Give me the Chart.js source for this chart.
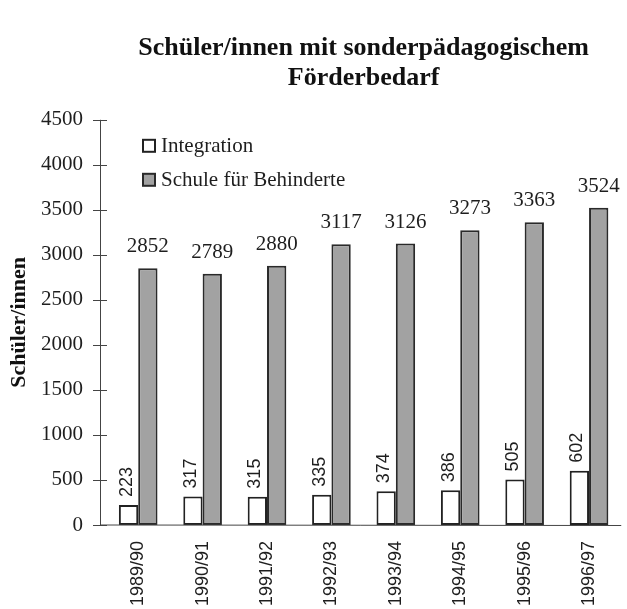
<!DOCTYPE html>
<html><head><meta charset="utf-8">
<script src="https://cdn.jsdelivr.net/npm/chart.js@4/dist/chart.umd.min.js"></script>
<style>html,body{margin:0;padding:0;background:#fff}#wrap{width:627px;height:609px}</style>
</head><body><div id="wrap"><canvas id="c" width="627" height="609"></canvas></div>
<script>
const categories = ['1989/90','1990/91','1991/92','1992/93','1993/94','1994/95','1995/96','1996/97'];
const integration = [223, 317, 315, 335, 374, 386, 505, 602];
const schule = [2852, 2789, 2880, 3117, 3126, 3273, 3363, 3524];
const seriesNames = ['Integration', 'Schule für Behinderte'];
const titleLines = ['Schüler/innen mit sonderpädagogischem', 'Förderbedarf'];
const yAxisTitle = 'Schüler/innen';
const yMin = 0, yMax = 4500, yStep = 500;

const INK = '#1e1e1e';
const SERIF = '"Liberation Serif", "Times New Roman", serif';
const SANS = '"Liberation Sans", Arial, sans-serif';

const decor = {
  id: 'decor',
  afterDatasetsDraw(chart) {
    const ctx = chart.ctx, ca = chart.chartArea;
    const ys = chart.scales.y;
    const axisX = ca.left - 6;
    ctx.save();
    ctx.strokeStyle = '#444';
    ctx.lineWidth = 1;
    // axes
    ctx.beginPath();
    ctx.moveTo(axisX + 0.5, ys.getPixelForValue(yMax));
    ctx.lineTo(axisX + 0.5, ys.getPixelForValue(0));
    ctx.lineTo(ca.right, ys.getPixelForValue(0) + 0.5);
    ctx.stroke();
    // cross ticks
    for (let v = yMin; v <= yMax; v += yStep) {
      const py = Math.round(ys.getPixelForValue(v)) + 0.5;
      ctx.beginPath();
      ctx.moveTo(axisX - 7, py);
      ctx.lineTo(axisX + 7, py);
      ctx.stroke();
    }
    // data labels
    ctx.fillStyle = INK;
    const m1 = chart.getDatasetMeta(1);
    ctx.font = '21px ' + SERIF;
    ctx.textAlign = 'center';
    ctx.textBaseline = 'alphabetic';
    m1.data.forEach((el, i) => {
      ctx.fillText(String(schule[i]), el.x, el.y - 16);
    });
    const m0 = chart.getDatasetMeta(0);
    ctx.font = '18px ' + SANS;
    m0.data.forEach((el, i) => {
      ctx.save();
      ctx.translate(el.x - 2, el.y - 8);
      ctx.rotate(-Math.PI / 2);
      ctx.textAlign = 'left';
      ctx.textBaseline = 'middle';
      ctx.fillText(String(integration[i]), 0, 0);
      ctx.restore();
    });
    // legend
    const ds = chart.data.datasets;
    const bx = ca.left + 37;
    const rows = [ca.top + 26, ca.top + 60];
    ctx.font = '21px ' + SERIF;
    ctx.textAlign = 'left';
    ctx.textBaseline = 'middle';
    rows.forEach((cy, i) => {
      ctx.fillStyle = ds[i].backgroundColor;
      ctx.fillRect(bx, cy - 6, 12, 12);
      ctx.strokeStyle = ds[i].borderColor;
      ctx.lineWidth = 2;
      ctx.strokeRect(bx, cy - 6, 12, 12);
      ctx.fillStyle = INK;
      ctx.fillText(seriesNames[i], bx + 18, cy + 1);
    });
    ctx.restore();
  }
};

new Chart(document.getElementById('c'), {
  type: 'bar',
  data: {
    labels: categories,
    datasets: [
      { label: seriesNames[0], data: integration, backgroundColor: '#ffffff', borderColor: '#222222', borderWidth: 2, borderSkipped: false },
      { label: seriesNames[1], data: schule, backgroundColor: '#a2a2a2', borderColor: '#2a2a2a', borderWidth: 2, borderSkipped: false }
    ]
  },
  options: {
    responsive: false,
    animation: false,
    devicePixelRatio: 1,
    barPercentage: 1,
    categoryPercentage: 0.6,
    layout: { padding: { left: 0, right: 4, top: 0, bottom: 0 } },
    plugins: {
      legend: { display: false },
      tooltip: { enabled: false },
      title: {
        display: true,
        text: titleLines,
        fullSize: false,
        color: '#111',
        font: { family: SERIF, size: 26, weight: 'bold', lineHeight: 1.15 },
        padding: { top: 33, bottom: 27 }
      }
    },
    scales: {
      x: {
        type: 'category',
        offset: true,
        grid: { display: false, drawTicks: false },
        border: { display: false },
        ticks: { minRotation: 90, maxRotation: 90, autoSkip: false, font: { family: SANS, size: 18 }, color: INK, padding: 16 },
        afterFit: s => { s.height = 84; }
      },
      y: {
        min: yMin, max: yMax,
        grid: { display: false, drawTicks: false },
        border: { display: false },
        ticks: { stepSize: yStep, font: { family: SERIF, size: 21 }, color: INK, padding: 23, callback: v => String(v) },
        title: { display: true, text: yAxisTitle, color: '#111', font: { family: SERIF, size: 22, weight: 'bold' }, padding: { top: 6, bottom: 0 } },
        afterFit: s => { s.width = 106; }
      }
    }
  },
  plugins: [decor]
});
</script>
</body></html>
